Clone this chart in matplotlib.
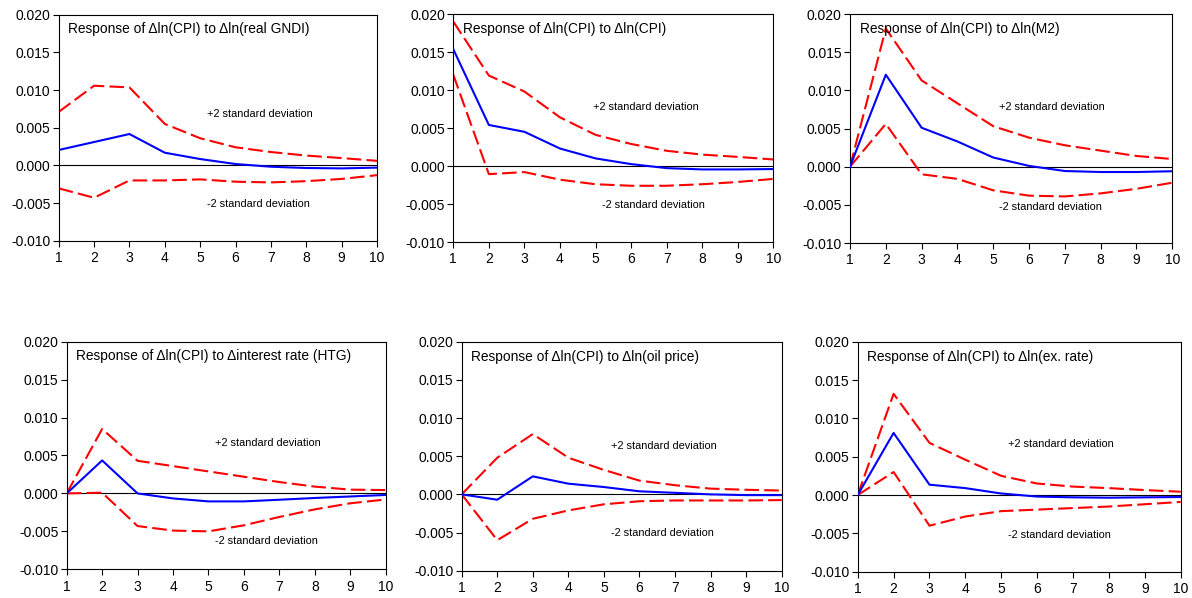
import matplotlib
matplotlib.use("Agg")
import matplotlib.pyplot as plt
import numpy as np

plt.rcParams['font.family'] = ['Liberation Sans', 'DejaVu Sans']

periods = list(range(1, 11))

titles = [
    "Response of \u0394ln(CPI) to \u0394ln(real GNDI)",
    "Response of \u0394ln(CPI) to \u0394ln(CPI)",
    "Response of \u0394ln(CPI) to \u0394ln(M2)",
    "Response of \u0394ln(CPI) to \u0394interest rate (HTG)",
    "Response of \u0394ln(CPI) to \u0394ln(oil price)",
    "Response of \u0394ln(CPI) to \u0394ln(ex. rate)",
]

# impulse responses (point estimate)
resp_gndi = [0.00204, 0.0031, 0.00416, 0.00168, 0.00084, 0.00018, -0.00018, -0.00035, -0.0004, -0.0003]
resp_cpi = [0.01536, 0.0054, 0.0045, 0.0023, 0.001, 0.00025, -0.00028, -0.00045, -0.00045, -0.0004]
resp_m2 = [0.0, 0.01205, 0.0051, 0.0033, 0.0012, 0.0001, -0.00057, -0.0007, -0.0007, -0.0006]
resp_int = [0.0, 0.00435, 0.0, -0.00066, -0.00105, -0.00105, -0.00083, -0.0006, -0.0004, -0.0002]
resp_oil = [0.0, -0.0007, 0.00236, 0.0014, 0.00096, 0.0004, 0.0002, 0.0, -0.0001, -0.0001]
resp_fx = [0.0, 0.0081, 0.00135, 0.0009, 0.0002, -0.0002, -0.0003, -0.00035, -0.0003, -0.00026]

# +2 standard deviation bands
up_gndi = [0.0071, 0.01057, 0.01035, 0.0055, 0.0036, 0.0024, 0.00177, 0.0013, 0.00097, 0.0006]
up_cpi = [0.019, 0.0119, 0.0098, 0.0064, 0.0041, 0.0029, 0.002, 0.0015, 0.0012, 0.00086]
up_m2 = [0.0, 0.0181, 0.0113, 0.0083, 0.0053, 0.0038, 0.0028, 0.0021, 0.0014, 0.001]
up_int = [0.0, 0.0085, 0.0043, 0.0036, 0.0029, 0.0022, 0.0015, 0.0009, 0.0005, 0.00044]
up_oil = [0.0, 0.0048, 0.0079, 0.0048, 0.0032, 0.0018, 0.0012, 0.00075, 0.0006, 0.0005]
up_fx = [0.0, 0.0132, 0.0068, 0.0046, 0.0025, 0.0015, 0.0011, 0.0009, 0.00065, 0.00043]

# -2 standard deviation bands
lo_gndi = [-0.00305, -0.0043, -0.002, -0.002, -0.00186, -0.00217, -0.00226, -0.0021, -0.0018, -0.0013]
lo_cpi = [0.012, -0.00107, -0.0008, -0.0018, -0.0024, -0.0026, -0.0026, -0.0024, -0.0021, -0.0017]
lo_m2 = [0.0, 0.0056, -0.001, -0.0016, -0.0031, -0.0038, -0.0039, -0.0035, -0.0029, -0.0021]
lo_int = [0.0, 0.0001, -0.0043, -0.0049, -0.005, -0.0042, -0.0031, -0.0021, -0.0013, -0.0008]
lo_oil = [0.0, -0.006, -0.0032, -0.0021, -0.0013, -0.0009, -0.0008, -0.0008, -0.0008, -0.00075]
lo_fx = [0.0, 0.003, -0.004, -0.0028, -0.0021, -0.0019, -0.0017, -0.0015, -0.0012, -0.0009]

responses = [resp_gndi, resp_cpi, resp_m2, resp_int, resp_oil, resp_fx]
uppers = [up_gndi, up_cpi, up_m2, up_int, up_oil, up_fx]
lowers = [lo_gndi, lo_cpi, lo_m2, lo_int, lo_oil, lo_fx]

# label positions (x in periods, y in data units)
up_label_pos = [(5.19, 0.0068), (4.93, 0.0078), (5.16, 0.0078), (5.19, 0.0066), (5.2, 0.0063), (5.18, 0.0067)]
lo_label_pos = [(5.19, -0.0051), (5.19, -0.0051), (5.16, -0.0053), (5.19, -0.0063), (5.2, -0.0051), (5.18, -0.0052)]

W, H = 1192, 598
fig = plt.figure(figsize=(W / 100, H / 100), dpi=100)

# axes boxes in pixels: left, top, right, bottom
boxes = [
    (58.7, 14.7, 377.0, 240.7),
    (453.3, 14.0, 773.3, 242.0),
    (850.0, 14.0, 1172.3, 243.0),
    (66.7, 341.7, 385.7, 569.3),
    (461.7, 341.7, 781.7, 570.7),
    (857.7, 341.7, 1180.7, 571.7),
]

yt = [-0.010, -0.005, 0.000, 0.005, 0.010, 0.015, 0.020]

for i in range(6):
    l, t, r, b = boxes[i]
    ax = fig.add_axes([l / W, 1 - b / H, (r - l) / W, (b - t) / H])
    ax.axhline(0, color='black', lw=0.8, zorder=1)
    ax.plot(periods, uppers[i], color='#FF0000', lw=1.5, dashes=(7, 2.5), zorder=2)
    ax.plot(periods, lowers[i], color='#FF0000', lw=1.5, dashes=(7, 2.5), zorder=2)
    ax.plot(periods, responses[i], color='#0000FF', lw=1.5, zorder=3)
    ax.set_xlim(1, 10)
    ax.set_ylim(-0.010, 0.020)
    ax.set_xticks(periods)
    ax.set_yticks(yt)
    ax.set_yticklabels(['%.3f' % v for v in yt])
    ax.tick_params(axis='both', labelsize=10, length=4, width=0.8, direction='out', pad=2)
    ax.tick_params(axis='x', pad=3.5)
    for s in ax.spines.values():
        s.set_linewidth(0.8)
    ax.text(0.03, 0.935, titles[i], transform=ax.transAxes, fontsize=9.9, va='center', ha='left')
    ax.text(up_label_pos[i][0], up_label_pos[i][1], "+2 standard deviation", fontsize=7.9, va='center', ha='left')
    ax.text(lo_label_pos[i][0], lo_label_pos[i][1], "-2 standard deviation", fontsize=7.9, va='center', ha='left')

fig.savefig('out.png', dpi=100)
